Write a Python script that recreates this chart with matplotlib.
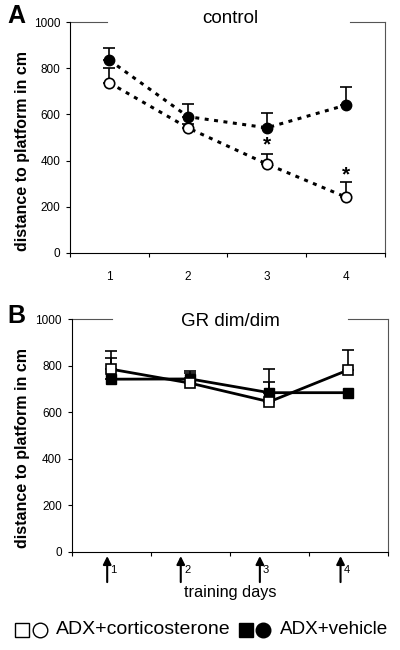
import matplotlib
matplotlib.use("Agg")
import matplotlib.pyplot as plt
from matplotlib.lines import Line2D

plt.rcParams["font.family"] = ["Liberation Sans", "DejaVu Sans"]

days = [1, 2, 3, 4]

# panel A (control), circles
ctrl_cort = [737, 541, 385, 242]
ctrl_cort_err = [65, 18, 43, 65]
ctrl_veh = [835, 590, 542, 640]
ctrl_veh_err = [54, 55, 64, 78]
stars_y = [467, 338]   # above days 3 and 4 (corticosterone)

# panel B (GR dim/dim), squares
gr_cort = [785, 725, 645, 782]
gr_cort_err = [76, 45, 85, 86]
gr_veh = [742, 743, 684, 684]
gr_veh_err = [91, 35, 101, 0]

arrow_pos = [0.45, 1.38, 2.38, 3.40]


def frame(ax, left_end, right_start):
    ax.set_xlim(0, 4)
    ax.set_ylim(0, 1000)
    ax.set_yticks([0, 200, 400, 600, 800, 1000])
    ax.set_xticks([0, 1, 2, 3, 4])
    ax.tick_params(axis="both", direction="out", length=3, width=0.8,
                   labelsize=8.5, pad=4)
    ax.spines["top"].set_visible(False)
    for s in ["left", "bottom", "right"]:
        ax.spines[s].set_linewidth(0.8)
    ax.spines["right"].set_color("#555555")
    # broken top frame
    ax.plot([0, left_end], [1, 1], transform=ax.transAxes, color="#555555",
            lw=0.8, clip_on=False)
    ax.plot([right_start, 1], [1, 1], transform=ax.transAxes, color="#555555",
            lw=0.8, clip_on=False)


fig = plt.figure(figsize=(4, 6.5), dpi=100)

# ---- panel A ----
axA = fig.add_axes([0.175, 0.611, 0.7875, 0.355])
frame(axA, 0.117, 0.889)
xA = [d - 0.5 for d in days]
axA.set_xticklabels([])
axA.set_xticks(xA, minor=True)
axA.set_xticklabels([str(d) for d in days], minor=True)
axA.tick_params(axis="x", which="minor", length=0, pad=13, labelsize=8.5)

axA.plot(xA, ctrl_cort, color="black", lw=2.2, linestyle=(0, (1.3, 1.8)),
         zorder=1)
axA.plot(xA, ctrl_veh, color="black", lw=2.2, linestyle=(0, (1.3, 1.8)),
         zorder=1)
axA.errorbar(xA, ctrl_veh, yerr=[[0] * 4, ctrl_veh_err], fmt="none",
             ecolor="black", elinewidth=1.2, capsize=4, capthick=1.2, zorder=2)
axA.errorbar(xA, ctrl_cort, yerr=[[0] * 4, ctrl_cort_err], fmt="none",
             ecolor="black", elinewidth=1.2, capsize=4, capthick=1.2, zorder=2)
axA.plot(xA, ctrl_veh, "o", ms=7.5, mfc="black", mec="black", zorder=3)
axA.plot(xA, ctrl_cort, "o", ms=7.5, mfc="white", mec="black", mew=1.2,
         zorder=3)
for d, y in zip(xA[2:], stars_y):
    axA.text(d, y, "*", ha="center", va="center", fontsize=15,
             fontweight="bold")

fig.text(0.04, 0.975, "A", fontsize=18, fontweight="bold",
         ha="center", va="center")
fig.text(0.575, 0.971, "control", fontsize=13.5, ha="center", va="center")
fig.text(0.0575, 0.768, "distance to platform in cm", fontsize=11.5,
         fontweight="bold", rotation=90, ha="center", va="center")

# ---- panel B ----
axB = fig.add_axes([0.179, 0.151, 0.791, 0.358])
frame(axB, 0.127, 0.874)
axB.set_xticklabels([])
xB = [d - 0.5 for d in days]

axB.errorbar(xB, gr_cort, yerr=[[0] * 4, gr_cort_err], fmt="none",
             ecolor="black", elinewidth=1.2, capsize=4, capthick=1.2, zorder=2)
axB.errorbar(xB, gr_veh, yerr=[[0] * 4, gr_veh_err], fmt="none",
             ecolor="black", elinewidth=1.2, capsize=4, capthick=1.2, zorder=2)
axB.plot(xB, gr_veh, "s-", color="black", lw=2, ms=7, mfc="black",
         mec="black", zorder=3)
axB.plot(xB, gr_cort, "s-", color="black", lw=2, ms=7, mfc="white",
         mec="black", mew=1.2, zorder=4)

for i, x in enumerate(arrow_pos):
    axB.annotate("", xy=(x, -0.018), xytext=(x, -0.13),
                 xycoords=("data", "axes fraction"),
                 textcoords=("data", "axes fraction"),
                 arrowprops=dict(arrowstyle="-|>", color="black", lw=1.5,
                                 mutation_scale=12, shrinkA=0, shrinkB=0),
                 annotation_clip=False)
    axB.text(x + 0.08, -0.078, str(days[i]), transform=axB.get_xaxis_transform(),
             fontsize=8, ha="center", va="center")

fig.text(0.04, 0.514, "B", fontsize=18, fontweight="bold",
         ha="center", va="center")
fig.text(0.575, 0.506, "GR dim/dim", fontsize=13.5, ha="center", va="center")
fig.text(0.0575, 0.311, "distance to platform in cm", fontsize=11.5,
         fontweight="bold", rotation=90, ha="center", va="center")
fig.text(0.575, 0.088, "training days", fontsize=11.7, ha="center",
         va="center")

# ---- legend row ----
ly = 0.031
fig.add_artist(Line2D([0.056], [ly], marker="s", ms=9.5, mfc="white",
                      mec="black", mew=1, transform=fig.transFigure))
fig.add_artist(Line2D([0.1], [ly], marker="o", ms=10.5, mfc="white",
                      mec="black", mew=1, transform=fig.transFigure))
fig.text(0.14, ly, "ADX+corticosterone", fontsize=14, ha="left",
         va="center")
fig.add_artist(Line2D([0.615], [ly], marker="s", ms=9.5, mfc="black",
                      mec="black", transform=fig.transFigure))
fig.add_artist(Line2D([0.658], [ly], marker="o", ms=10.5, mfc="black",
                      mec="black", transform=fig.transFigure))
fig.text(0.7, ly, "ADX+vehicle", fontsize=13.6, ha="left", va="center")

fig.savefig("out.png", dpi=100)
